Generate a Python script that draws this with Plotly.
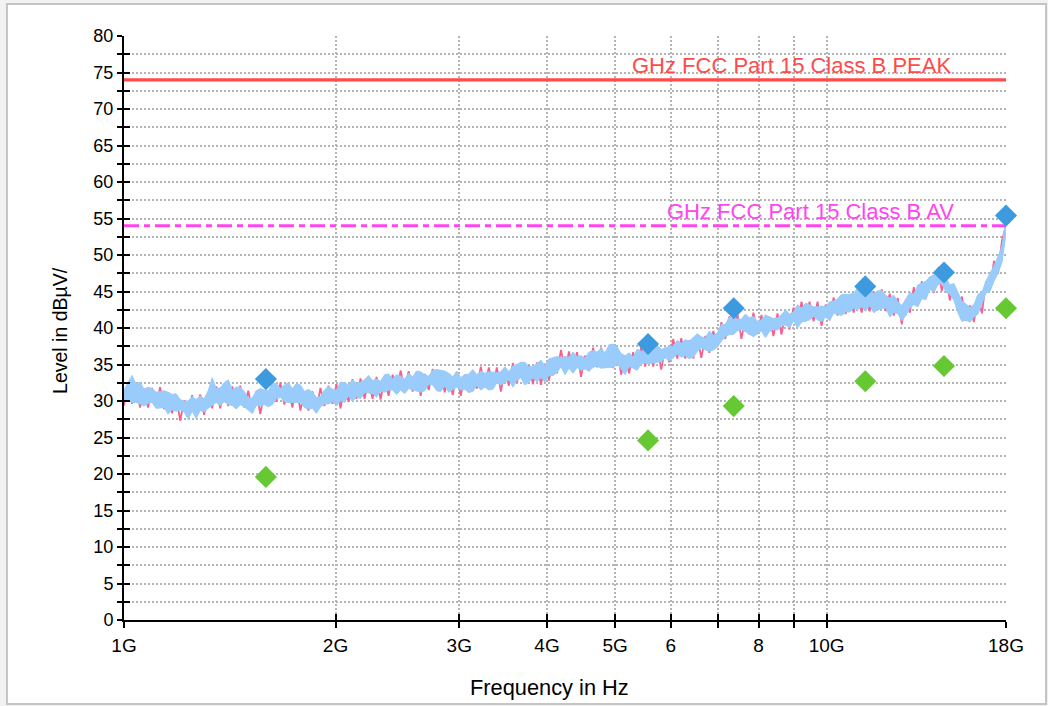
import numpy as np
import plotly.graph_objects as go

# Sweep grid: 221 log-spaced frequencies from 1 GHz to 18 GHz
freq = np.geomspace(1e9, 18e9, 221)

# Horizontal polarisation sweep (dBµV), raw trace
level_h = [
    29.4, 32.5, 29.6, 32.3, 29.1, 31.7, 29.1, 31.8, 29.2, 31.9,
    28.9, 31.2, 28.3, 30.8, 27.3, 30.1, 27.8, 30.8, 28.1, 30.9,
    28.1, 31.1, 29.0, 32.0, 29.0, 31.9, 29.3, 32.0, 29.4, 32.1,
    29.1, 31.4, 28.4, 31.3, 28.2, 31.4, 29.4, 32.5, 29.9, 32.5,
    29.5, 31.9, 29.1, 32.0, 28.7, 31.3, 28.7, 31.3, 28.7, 31.8,
    29.3, 32.1, 29.6, 32.3, 29.0, 32.0, 29.9, 33.0, 30.3, 33.1,
    30.3, 32.9, 30.3, 33.3, 30.2, 33.1, 30.7, 33.6, 31.2, 34.2,
    31.4, 34.1, 31.3, 34.0, 30.7, 33.7, 31.5, 34.4, 31.6, 34.1,
    31.2, 33.5, 30.8, 33.8, 30.7, 33.6, 31.2, 34.1, 31.7, 34.7,
    31.9, 34.6, 31.9, 34.6, 31.3, 34.2, 32.1, 35.2, 32.5, 35.2,
    32.4, 34.9, 32.3, 35.3, 32.2, 35.1, 32.8, 35.9, 33.8, 37.0,
    34.2, 36.8, 34.0, 36.7, 33.3, 36.2, 34.1, 37.3, 34.6, 37.3,
    34.6, 37.1, 34.5, 37.1, 33.6, 36.1, 33.8, 36.7, 34.4, 37.4,
    34.7, 37.4, 34.7, 37.5, 34.3, 37.3, 35.3, 38.5, 35.8, 38.6,
    35.8, 38.3, 35.8, 38.8, 35.9, 38.9, 36.6, 39.6, 37.4, 40.8,
    38.5, 41.6, 39.4, 42.0, 38.5, 41.4, 39.1, 42.1, 39.2, 41.8,
    38.9, 41.5, 38.9, 42.0, 39.1, 42.0, 39.8, 42.8, 40.5, 43.6,
    40.9, 43.6, 40.9, 43.6, 40.3, 43.2, 41.1, 44.2, 41.7, 44.5,
    41.9, 44.6, 42.1, 45.3, 42.1, 44.8, 42.3, 45.0, 42.5, 45.3,
    42.3, 44.7, 41.7, 44.1, 40.5, 43.9, 42.1, 45.6, 43.2, 46.4,
    44.0, 47.0, 44.8, 48.0, 45.1, 47.1, 43.8, 45.8, 42.4, 44.3,
    41.0, 43.1, 40.8, 44.4, 42.0, 46.4, 45.2, 49.2, 47.4, 52.0, 54.0,
]

# Vertical polarisation sweep (dBµV): max / min hold per display bin
level_v_max = [
    31.5, 32.5, 33.5, 32.3, 32.6, 31.6, 31.9, 31.7, 31.2, 31.3,
    31.4, 31.2, 30.9, 31.0, 30.2, 30.0, 30.0, 30.6, 30.2, 30.7,
    30.3, 31.4, 33.2, 31.7, 31.8, 32.5, 32.9, 31.5, 31.9, 31.9,
    31.3, 30.4, 30.4, 31.4, 31.7, 31.5, 31.4, 32.4, 32.4, 31.7,
    32.2, 32.5, 31.7, 32.4, 32.2, 31.3, 31.6, 31.2, 30.5, 30.6,
    31.5, 32.0, 31.6, 31.5, 32.6, 32.5, 32.2, 32.9, 32.4, 32.6,
    32.9, 33.5, 32.8, 33.0, 32.7, 33.6, 33.7, 33.0, 33.6, 33.4,
    33.0, 33.8, 33.3, 34.1, 34.0, 33.6, 33.4, 34.2, 34.3, 34.2,
    34.1, 33.8, 33.3, 34.1, 33.2, 33.6, 33.7, 34.3, 33.6, 34.1,
    33.8, 34.0, 33.9, 33.9, 34.0, 34.7, 34.0, 34.8, 35.0, 35.3,
    35.3, 34.7, 34.7, 35.1, 35.6, 34.8, 35.8, 35.9, 36.1, 35.9,
    36.1, 36.0, 36.7, 36.1, 36.2, 35.9, 36.7, 36.9, 36.7, 37.2,
    36.6, 37.7, 37.8, 37.4, 36.5, 36.2, 36.6, 36.0, 37.1, 36.8,
    36.9, 36.4, 37.1, 37.6, 37.1, 37.2, 37.5, 37.5, 38.3, 37.9,
    38.4, 38.2, 38.7, 39.2, 38.8, 38.6, 39.6, 39.0, 39.3, 40.5,
    40.5, 41.5, 41.3, 41.3, 41.2, 41.9, 41.4, 41.6, 40.9, 41.1,
    41.8, 41.5, 41.3, 41.4, 41.8, 42.5, 41.9, 42.2, 43.2, 42.7,
    43.4, 43.2, 42.9, 42.9, 43.0, 42.9, 43.6, 43.7, 44.0, 44.6,
    44.6, 44.6, 44.8, 45.4, 44.8, 44.7, 45.4, 44.7, 45.1, 45.1,
    44.5, 44.1, 44.5, 43.6, 43.1, 43.9, 44.9, 44.6, 45.9, 46.2,
    46.4, 47.0, 47.3, 48.3, 48.5, 46.9, 45.9, 46.1, 44.9, 43.7,
    43.3, 42.8, 43.2, 44.6, 44.9, 46.4, 47.5, 48.5, 49.8, 51.2, 55.0,
]
level_v_min = [
    29.9, 30.1, 29.8, 29.8, 29.6, 29.3, 29.7, 29.8, 29.0, 29.0,
    29.1, 28.2, 28.8, 28.6, 28.8, 28.5, 27.5, 28.6, 27.6, 28.7,
    28.5, 29.0, 29.4, 29.8, 29.4, 29.9, 29.5, 29.4, 28.9, 29.5,
    29.2, 28.8, 28.3, 29.4, 29.3, 29.5, 29.2, 29.5, 30.3, 30.5,
    29.9, 29.8, 29.8, 29.9, 29.8, 29.1, 28.9, 29.0, 28.3, 29.2,
    29.6, 29.6, 29.9, 29.3, 30.1, 29.8, 30.7, 29.9, 30.6, 30.3,
    31.2, 31.1, 31.0, 30.5, 31.4, 31.2, 31.5, 31.5, 30.9, 31.5,
    31.0, 31.7, 31.5, 31.4, 31.2, 31.4, 32.3, 32.2, 31.4, 31.3,
    32.1, 31.2, 31.6, 31.9, 31.5, 31.6, 31.2, 31.3, 32.1, 31.5,
    31.9, 31.5, 31.6, 32.5, 32.2, 32.5, 32.9, 31.9, 32.8, 33.2,
    32.2, 32.6, 33.2, 32.6, 33.3, 32.6, 33.5, 33.5, 33.9, 34.7,
    33.6, 34.5, 33.8, 34.6, 34.2, 34.4, 34.1, 34.6, 34.8, 34.5,
    34.6, 34.6, 34.6, 35.1, 34.4, 33.6, 34.8, 34.5, 34.2, 35.1,
    35.2, 35.1, 35.2, 35.2, 35.4, 35.9, 35.5, 35.9, 36.4, 36.0,
    36.2, 35.8, 36.0, 36.8, 37.3, 37.0, 36.8, 37.0, 37.4, 38.2,
    38.8, 39.1, 39.1, 39.6, 39.8, 39.5, 39.1, 38.8, 39.2, 39.6,
    38.7, 39.5, 39.9, 39.7, 40.3, 40.4, 40.0, 41.0, 40.0, 40.8,
    41.0, 41.1, 41.6, 41.1, 40.9, 41.5, 41.0, 42.0, 41.9, 41.7,
    42.2, 42.2, 42.7, 42.5, 42.9, 42.3, 43.1, 42.1, 42.5, 42.6,
    42.8, 41.5, 42.1, 42.0, 41.0, 41.7, 42.7, 43.2, 42.9, 44.0,
    43.9, 45.3, 44.9, 45.9, 46.2, 44.9, 44.6, 43.8, 42.1, 40.9,
    41.1, 40.8, 41.5, 41.9, 43.3, 44.8, 45.0, 46.4, 47.5, 49.0, 52.9,
]

# Final measurements at the critical frequencies
final_freq = [1.592e9, 5.569e9, 7.375e9, 11.35e9, 14.69e9, 18.0e9]
final_peak = [33.0, 37.8, 42.7, 45.7, 47.6, 55.4]
final_avg = [19.6, 24.6, 29.3, 32.7, 34.8, 42.7]

# FCC Part 15 Class B limits above 1 GHz
limit_freq = [1e9, 18e9]
limit_peak = 74.0
limit_avg = 54.0

x_tickvals = [1e9, 2e9, 3e9, 4e9, 5e9, 6e9, 7e9, 8e9, 9e9, 10e9, 18e9]
x_ticktext = ["1G", "2G", "3G", "4G", "5G", "6", "", "8", "", "10G", "18G"]
y_tickvals = [i * 2.5 for i in range(33)]
y_ticktext = [f"{v:g}" if v % 5 == 0 else "" for v in y_tickvals]

FONT = "Liberation Sans, Arial, Helvetica, sans-serif"
GRID = "#b4b4b4"
BLUE = "#99cbfb"
x_range = [9, np.log10(18e9)]
y_range = [0, 80]

fig = go.Figure()

fig.add_trace(go.Scatter(x=freq, y=level_h, mode="lines",
                         line=dict(color="#f5608e", width=1.8),
                         hoverinfo="skip", showlegend=False))
fig.add_trace(go.Scatter(x=freq, y=level_v_min, mode="lines",
                         line=dict(color=BLUE, width=1),
                         hoverinfo="skip", showlegend=False))
fig.add_trace(go.Scatter(x=freq, y=level_v_max, mode="lines", fill="tonexty",
                         fillcolor=BLUE, line=dict(color=BLUE, width=1),
                         hoverinfo="skip", showlegend=False))

# limit lines and final markers sit on the overlay axes (drawn on top)
fig.add_trace(go.Scatter(x=limit_freq, y=[limit_peak, limit_peak], mode="lines",
                         line=dict(color="#ff4a4a", width=3.2),
                         xaxis="x2", yaxis="y2", showlegend=False))
fig.add_trace(go.Scatter(x=limit_freq, y=[limit_avg, limit_avg], mode="lines",
                         line=dict(color="#ff44f0", width=3, dash="15px,5px,6px,5px"),
                         xaxis="x2", yaxis="y2", showlegend=False))
fig.add_trace(go.Scatter(x=final_freq, y=final_avg, mode="markers",
                         marker=dict(symbol="diamond", size=17, color="#66c933"),
                         xaxis="x2", yaxis="y2", cliponaxis=False, showlegend=False))
fig.add_trace(go.Scatter(x=final_freq, y=final_peak, mode="markers",
                         marker=dict(symbol="diamond", size=17, color="#3d9ade"),
                         xaxis="x2", yaxis="y2", cliponaxis=False, showlegend=False))

axis_common = dict(showline=True, linecolor="black", linewidth=2,
                   tickcolor="black", tickwidth=2, zeroline=False)

fig.update_layout(
    width=1048, height=706,
    margin=dict(l=124, r=42, t=36, b=86),
    paper_bgcolor="#f2f2f2", plot_bgcolor="white",
    font=dict(family=FONT, color="black"),
    xaxis=dict(type="log", range=x_range, tickvals=x_tickvals, ticktext=x_ticktext,
               ticks="outside", ticklen=6, showgrid=True, gridcolor=GRID,
               gridwidth=1.5, griddash="2px,2px", tickfont=dict(size=19),
               ticklabelstandoff=1, **axis_common),
    yaxis=dict(range=y_range, tickvals=y_tickvals, ticktext=y_ticktext,
               ticks="outside", ticklen=5, showgrid=True, gridcolor=GRID,
               gridwidth=1.5, griddash="2px,2px", tickfont=dict(size=18),
               **axis_common),
    xaxis2=dict(type="log", range=x_range, tickvals=x_tickvals, overlaying="x",
                anchor="y2", ticks="inside", ticklen=6, showticklabels=False,
                showgrid=False, **axis_common),
    yaxis2=dict(range=y_range, tickvals=y_tickvals, overlaying="y", anchor="x2",
                ticks="inside", ticklen=6, showticklabels=False, showgrid=False,
                **axis_common),
    shapes=[dict(type="rect", xref="paper", yref="paper", layer="below",
                 x0=-0.1327, x1=1.0454, y0=-0.1438, y1=1.0548,
                 line=dict(color="#c4c4c4", width=2), fillcolor="white")],
    annotations=[
        dict(text="GHz FCC Part 15 Class B PEAK", xref="x2", yref="y2",
             x=np.log10(8.92e9), y=limit_peak, yanchor="bottom", yshift=0,
             showarrow=False, font=dict(size=22, color="#ff4a4a")),
        dict(text="GHz FCC Part 15 Class B AV", xref="x2", yref="y2",
             x=np.log10(9.49e9), y=limit_avg, yanchor="bottom", yshift=0,
             showarrow=False, font=dict(size=22, color="#ff44f0")),
        dict(text="Frequency in Hz", xref="paper", yref="paper",
             x=0.4819, y=-0.1164, xanchor="center", yanchor="middle",
             showarrow=False, font=dict(size=21.8)),
        dict(text="Level in dBµV/", xref="paper", yref="paper", textangle=-90,
             x=-0.0726, y=0.4966, xanchor="center", yanchor="middle",
             showarrow=False, font=dict(size=19.5)),
    ],
)

fig.write_html("out.html")
